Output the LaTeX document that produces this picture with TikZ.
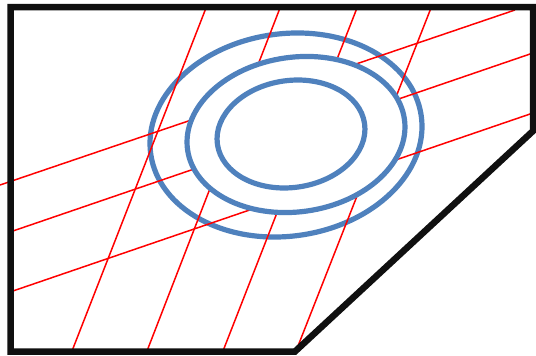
\documentclass[tikz,border=0pt]{standalone}
\definecolor{ringblue}{RGB}{79,129,189}
\definecolor{framec}{RGB}{16,16,16}
\begin{document}
\begin{tikzpicture}[x=1pt,y=-1pt,
  frame/.style={draw=framec, line width=6.5pt, line join=miter},
  gridline/.style={draw=red, line width=1.5pt},
  ring/.style={draw=ringblue, line width=5.2pt}]
\useasboundingbox (0,0) rectangle (536,356);
\fill[white] (0,0) rectangle (536,356);
% centres
\coordinate (co) at (286,135);
\coordinate (cm) at (296,134.5);
\coordinate (ci) at (291,134);
% outer ring
\draw[ring, rotate around={8:(co)}] (co) ellipse [x radius=136.6, y radius=101.2];
% grid lines
\coordinate (A1t) at (206,8);   \coordinate (A1b) at (72,351);
\coordinate (A2t) at (280,8);   \coordinate (A2b) at (147,351);
\coordinate (A3t) at (357,8);   \coordinate (A3b) at (223,351);
\coordinate (A4t) at (431,8);   \coordinate (A4b) at (298,346);
\coordinate (B1l) at (0,185);   \coordinate (B1r) at (515,10);
\coordinate (B2l) at (10,232);  \coordinate (B2r) at (533,53);
\coordinate (B3l) at (10,292);  \coordinate (B3r) at (533,113);
\foreach \p in {A1,A2,A3,A4}{\draw[gridline] (\p t) -- (\p b);}
\draw[gridline] (B1l) -- (B1r);
\draw[gridline] (B2l) -- (B2r);
\draw[gridline] (B3l) -- (B3r);
% middle ring (hides grid inside)
\filldraw[ring, fill=white, rotate around={8:(cm)}] (cm) ellipse [x radius=109.5, y radius=77.3];
% inner ring
\draw[ring, rotate around={8:(ci)}] (ci) ellipse [x radius=74.3, y radius=53.5];
% frame
\coordinate (F1) at (10.5,7);
\coordinate (F2) at (533,7);
\coordinate (F3) at (533,131);
\coordinate (F4) at (295,351.5);
\coordinate (F5) at (10.5,351.5);
\draw[frame] (F1) -- (F2) -- (F3) -- (F4) -- (F5) -- cycle;
\end{tikzpicture}
\end{document}
